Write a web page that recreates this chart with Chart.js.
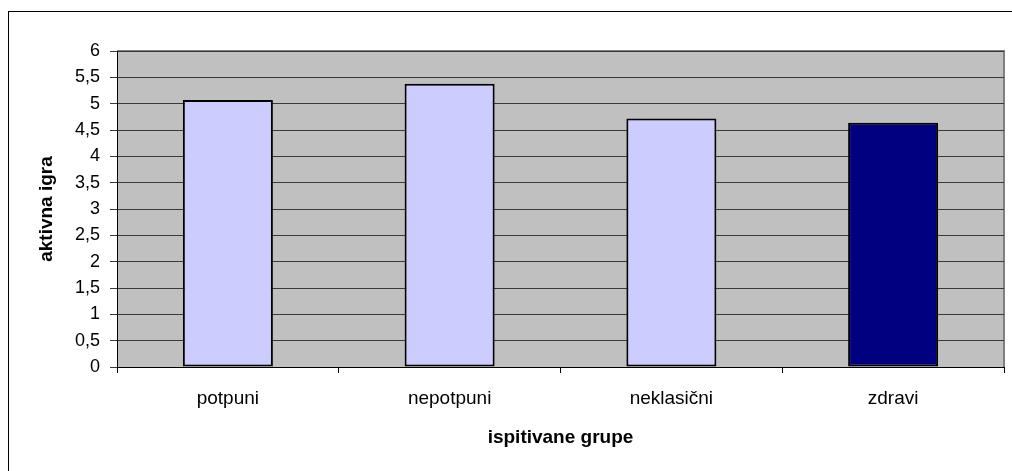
<!DOCTYPE html>
<html>
<head>
<meta charset="utf-8">
<script src="https://cdn.jsdelivr.net/npm/chart.js@4"></script>
<style>
    html, body { margin: 0; padding: 0; background: #fff; overflow: hidden; }
    #wrap { width: 1012px; height: 471px; position: relative; }
</style>
</head>
<body>
<div id="wrap"><canvas id="grupeChart"></canvas></div>
<script>
var categories = ['potpuni', 'nepotpuni', 'neklasični', 'zdravi'];
var values = [5.07, 5.38, 4.72, 4.64];
var barColors = ['#CCCCFF', '#CCCCFF', '#CCCCFF', '#000080'];
var yTicks = ['0', '0,5', '1', '1,5', '2', '2,5', '3', '3,5', '4', '4,5', '5', '5,5', '6'];

// grey plot background, plot frame and the outer chart frame
var plotArea = {
    id: 'plotArea',
    beforeDraw: function (chart) {
        var ctx = chart.ctx;
        var a = chart.chartArea;
        ctx.save();
        ctx.fillStyle = '#fff';
        ctx.fillRect(0, 0, chart.width, chart.height);
        ctx.strokeStyle = '#000';
        ctx.lineWidth = 1;
        ctx.strokeRect(8.5, 11.5, 3000, 3000);
        ctx.fillStyle = '#C0C0C0';
        ctx.fillRect(a.left, a.top, a.right - a.left, a.bottom - a.top);
        ctx.strokeStyle = '#808080';
        ctx.lineWidth = 2;
        ctx.beginPath();
        ctx.moveTo(a.left, a.top);
        ctx.lineTo(a.right, a.top);
        ctx.lineTo(a.right, a.bottom);
        ctx.stroke();
        ctx.restore();
    }
};

document.addEventListener('DOMContentLoaded', function () {
    var ctx = document.getElementById('grupeChart').getContext('2d');
    var grupeChart = new Chart(ctx, {
        type: 'bar',
        data: {
            labels: categories,
            datasets: [{
                data: values,
                backgroundColor: barColors,
                borderColor: '#000',
                borderWidth: 2,
                borderSkipped: false,
                categoryPercentage: 1,
                barPercentage: 0.406
            }]
        },
        options: {
            responsive: true,
            maintainAspectRatio: false,
            animation: false,
            layout: {
                padding: { left: 0, top: 51, right: 8, bottom: 0 }
            },
            plugins: {
                legend: { display: false },
                tooltip: { enabled: false }
            },
            scales: {
                x: {
                    grid: {
                        drawOnChartArea: false,
                        color: '#000',
                        tickLength: 6
                    },
                    border: { color: '#000', width: 1 },
                    ticks: {
                        color: '#000',
                        padding: 14,
                        font: { family: '"Liberation Sans", Arial', size: 19 }
                    },
                    title: {
                        display: true,
                        text: 'ispitivane grupe',
                        color: '#000',
                        padding: { top: 0, bottom: 22 },
                        font: { family: '"Liberation Sans", Arial', size: 19, weight: 'bold' }
                    },
                    afterFit: function (scale) { scale.height = 104; }
                },
                y: {
                    min: 0,
                    max: 6,
                    ticks: {
                        stepSize: 0.5,
                        color: '#000',
                        padding: 10,
                        font: { family: '"Liberation Sans", Arial', size: 18 },
                        callback: function (v, i) { return yTicks[i]; }
                    },
                    grid: {
                        color: '#3a3a3a',
                        tickLength: 7
                    },
                    border: { color: '#000', width: 1 },
                    title: {
                        display: true,
                        text: 'aktivna igra',
                        color: '#000',
                        padding: { top: 35, bottom: 0 },
                        font: { family: '"Liberation Sans", Arial', size: 19, weight: 'bold' }
                    },
                    afterFit: function (scale) { scale.width = 117; }
                }
            }
        },
        plugins: [plotArea]
    });
});
</script>
</body>
</html>
